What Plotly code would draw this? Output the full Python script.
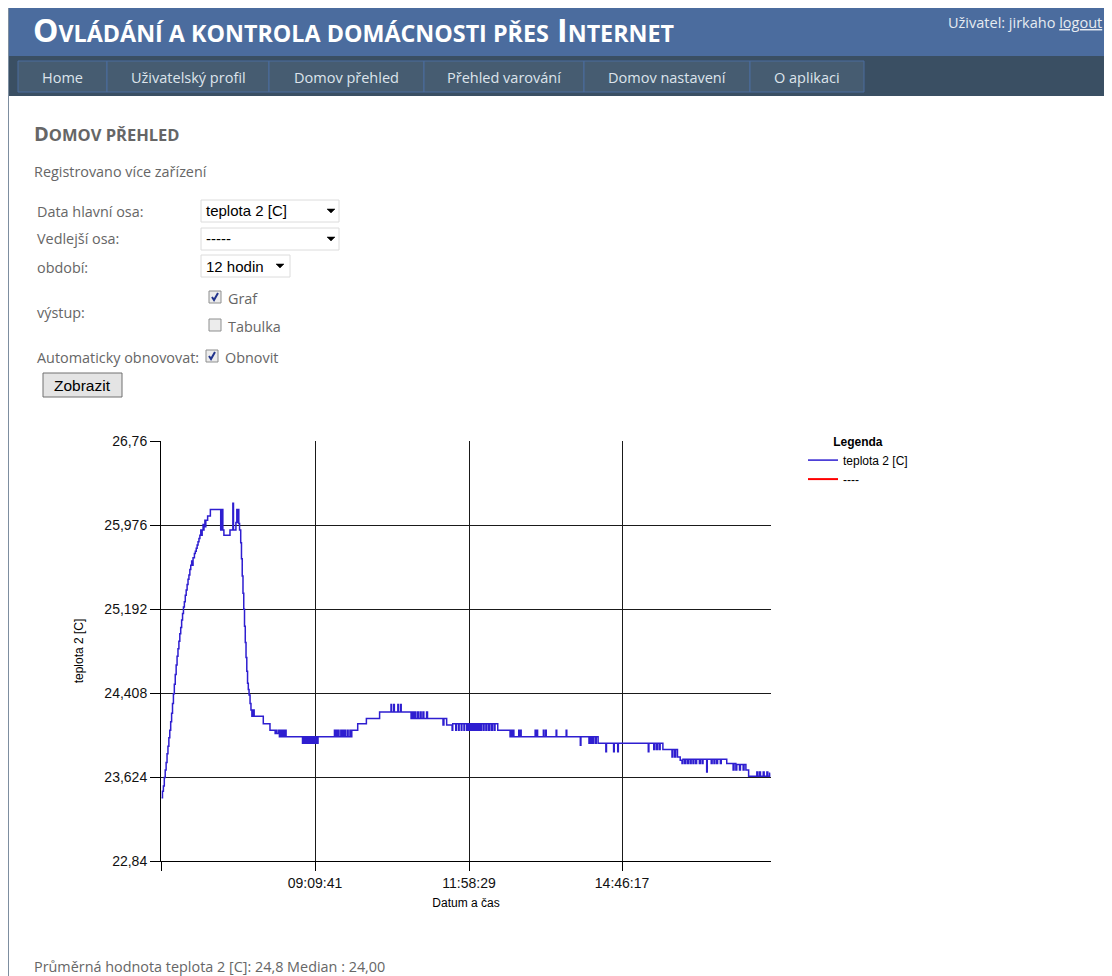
import plotly.graph_objects as go

DAY = "2013-04-16 "

# ---- data (time, temperature) ----
rise = [
    ("06:21:30", 23.43), ("06:22:30", 23.49), ("06:23:30", 23.54), ("06:24:30", 23.62),
    ("06:25:30", 23.69), ("06:26:30", 23.76), ("06:27:30", 23.84), ("06:28:30", 23.91),
    ("06:29:30", 23.99), ("06:30:30", 24.06), ("06:31:30", 24.14), ("06:32:30", 24.22),
    ("06:33:30", 24.31), ("06:34:30", 24.40), ("06:35:30", 24.49), ("06:36:30", 24.58),
    ("06:37:30", 24.67), ("06:38:30", 24.75), ("06:39:30", 24.82), ("06:40:30", 24.89),
    ("06:41:30", 24.96), ("06:42:30", 25.02), ("06:43:30", 25.09), ("06:44:30", 25.15),
    ("06:45:30", 25.21), ("06:46:30", 25.26), ("06:47:30", 25.32), ("06:48:30", 25.37),
    ("06:49:30", 25.42), ("06:50:30", 25.47), ("06:51:30", 25.51), ("06:52:30", 25.56),
    ("06:53:30", 25.60), ("06:54:30", 25.64), ("06:55:30", 25.60), ("06:56:00", 25.67),
    ("06:57:30", 25.71), ("06:58:30", 25.73), ("06:59:30", 25.76), ("07:00:30", 25.79),
    ("07:01:30", 25.82), ("07:02:30", 25.85), ("07:03:30", 25.88), ("07:04:30", 25.93),
    ("07:05:30", 25.88), ("07:06:00", 25.93), ("07:07:00", 25.98), ("07:07:30", 25.93),
    ("07:08:00", 25.98), ("07:09:00", 26.02), ("07:09:30", 25.96), ("07:10:00", 26.02),
    ("07:12:00", 26.06), ("07:15:00", 26.12),
]
peak = [
    ("07:26:20", 25.93), ("07:28:00", 26.12), ("07:28:40", 25.93), ("07:29:50", 25.88),
    ("07:36:30", 25.93), ("07:39:40", 26.18), ("07:40:20", 25.93), ("07:43:00", 26.00),
    ("07:44:00", 26.12), ("07:44:40", 26.00), ("07:45:30", 26.12), ("07:46:10", 25.99),
    ("07:47:00", 25.93),
]
fall = [
    ("07:48:15", 25.81), ("07:49:05", 25.66), ("07:49:55", 25.50), ("07:50:45", 25.34),
    ("07:51:35", 25.19), ("07:52:25", 25.03), ("07:53:15", 24.88), ("07:54:05", 24.74),
    ("07:54:55", 24.61), ("07:55:45", 24.50), ("07:56:35", 24.44), ("07:57:25", 24.39),
    ("07:58:30", 24.31), ("07:59:30", 24.25),
]
morning = [
    ("08:00:30", 24.19), ("08:01:00", 24.25), ("08:01:40", 24.19), ("08:02:20", 24.25),
    ("08:03:00", 24.19), ("08:13:00", 24.12), ("08:20:20", 24.06), ("08:26:00", 24.03),
    ("08:27:00", 24.06), ("08:28:00", 24.03), ("08:30:00", 24.06), ("08:30:40", 24.00),
    ("08:31:30", 24.06), ("08:32:20", 24.00), ("08:33:00", 24.06), ("08:34:00", 24.00),
    ("08:35:00", 24.06), ("08:36:00", 24.00), ("08:37:00", 24.06), ("08:38:00", 24.00),
    ("08:56:00", 23.94), ("08:57:00", 24.00), ("08:58:00", 23.94), ("08:59:30", 24.00),
    ("09:00:30", 23.94), ("09:02:00", 24.00), ("09:03:00", 23.94), ("09:04:00", 24.00),
    ("09:05:00", 23.94), ("09:06:30", 24.00), ("09:07:30", 23.94), ("09:09:00", 24.00),
    ("09:10:00", 23.94), ("09:11:00", 24.00), ("09:12:00", 23.94), ("09:13:00", 24.00),
    ("09:31:00", 24.06), ("09:31:40", 24.00), ("09:33:00", 24.06), ("09:33:40", 24.00),
    ("09:35:00", 24.06), ("09:36:00", 24.00), ("09:38:00", 24.06), ("09:38:40", 24.00),
    ("09:40:00", 24.06), ("09:40:40", 24.00), ("09:42:00", 24.06), ("09:43:00", 24.00),
    ("09:45:00", 24.06), ("09:46:00", 24.00), ("09:48:00", 24.06), ("09:48:40", 24.00),
    ("09:50:00", 24.06),
]
hump = [
    ("09:56:30", 24.12), ("10:06:00", 24.17), ("10:20:30", 24.23), ("10:33:00", 24.30),
    ("10:33:40", 24.23), ("10:36:00", 24.30), ("10:36:40", 24.23), ("10:40:30", 24.30),
    ("10:41:10", 24.23), ("10:43:30", 24.30), ("10:44:10", 24.23), ("10:55:00", 24.17),
    ("10:56:00", 24.23), ("10:57:00", 24.17), ("10:58:30", 24.23), ("11:00:00", 24.17),
    ("11:02:00", 24.23), ("11:03:00", 24.17), ("11:05:00", 24.23), ("11:06:00", 24.17),
    ("11:08:00", 24.23), ("11:09:00", 24.17), ("11:12:00", 24.23), ("11:13:00", 24.17),
    ("11:30:00", 24.11), ("11:31:00", 24.17), ("11:34:00", 24.11), ("11:40:00", 24.06),
    ("11:40:40", 24.12), ("11:44:00", 24.06), ("11:44:40", 24.12), ("11:47:00", 24.06),
    ("11:47:40", 24.12), ("11:50:00", 24.06), ("11:50:40", 24.12), ("11:53:00", 24.06),
    ("11:53:40", 24.12), ("11:56:00", 24.06), ("11:57:00", 24.12), ("11:58:30", 24.06),
    ("11:59:30", 24.12), ("12:01:00", 24.06), ("12:02:00", 24.12), ("12:03:30", 24.06),
    ("12:04:30", 24.12), ("12:06:00", 24.06), ("12:07:00", 24.12), ("12:08:30", 24.06),
    ("12:09:30", 24.12), ("12:11:00", 24.06), ("12:12:00", 24.12), ("12:14:00", 24.06),
    ("12:15:00", 24.12), ("12:17:00", 24.06), ("12:18:00", 24.12), ("12:20:00", 24.06),
    ("12:21:00", 24.12), ("12:23:00", 24.06), ("12:24:00", 24.12), ("12:26:00", 24.06),
    ("12:27:00", 24.12), ("12:30:00", 24.06),
]
afternoon = [
    ("12:43:30", 24.00), ("12:45:00", 24.06), ("12:45:40", 24.00), ("12:47:00", 24.06),
    ("12:47:40", 24.00), ("12:53:00", 24.06), ("12:53:40", 24.00), ("12:55:00", 24.06),
    ("12:55:40", 24.00), ("13:11:00", 24.06), ("13:11:40", 24.00), ("13:13:00", 24.06),
    ("13:13:40", 24.00), ("13:20:00", 24.06), ("13:20:40", 24.00), ("13:22:30", 24.06),
    ("13:23:10", 24.00), ("13:34:00", 24.06), ("13:34:40", 24.00), ("13:45:00", 24.06),
    ("13:45:40", 24.00), ("14:00:30", 23.92), ("14:01:10", 24.00), ("14:10:00", 23.94),
    ("14:11:00", 24.00), ("14:12:00", 23.94), ("14:13:00", 24.00), ("14:14:00", 23.94),
    ("14:15:00", 24.00), ("14:17:00", 23.94), ("14:18:00", 24.00), ("14:20:00", 23.94),
    ("14:28:30", 23.86), ("14:29:10", 23.94), ("14:37:00", 23.86), ("14:37:40", 23.94),
    ("14:41:30", 23.86), ("14:42:10", 23.94), ("15:15:00", 23.86), ("15:15:40", 23.94),
    ("15:21:00", 23.88), ("15:22:00", 23.94), ("15:24:00", 23.88), ("15:25:00", 23.94),
    ("15:27:00", 23.88), ("15:28:00", 23.94), ("15:31:00", 23.88), ("15:41:00", 23.81),
    ("15:42:00", 23.88), ("15:44:00", 23.81), ("15:45:00", 23.88), ("15:47:00", 23.81),
    ("15:50:00", 23.78),
]
evening = [
    ("15:52:00", 23.75), ("15:53:00", 23.79), ("15:55:00", 23.75), ("15:56:00", 23.79),
    ("15:58:00", 23.75), ("15:59:00", 23.79), ("16:01:00", 23.75), ("16:02:00", 23.79),
    ("16:04:00", 23.75), ("16:05:00", 23.79), ("16:07:00", 23.75), ("16:08:00", 23.79),
    ("16:11:00", 23.75), ("16:12:00", 23.79), ("16:14:00", 23.75), ("16:15:00", 23.79),
    ("16:19:00", 23.67), ("16:19:40", 23.79), ("16:24:00", 23.75), ("16:25:00", 23.79),
    ("16:27:00", 23.75), ("16:28:00", 23.79), ("16:30:00", 23.75), ("16:31:00", 23.79),
    ("16:34:00", 23.75), ("16:35:00", 23.79), ("16:41:00", 23.75), ("16:48:00", 23.69),
    ("16:49:00", 23.75), ("16:51:00", 23.69), ("16:52:00", 23.74), ("16:55:00", 23.69),
    ("16:56:00", 23.74), ("16:59:00", 23.69), ("17:00:00", 23.74), ("17:02:00", 23.69),
    ("17:05:00", 23.63), ("17:14:00", 23.67), ("17:15:00", 23.63), ("17:17:00", 23.67),
    ("17:18:00", 23.63), ("17:21:00", 23.67), ("17:22:00", 23.63), ("17:25:00", 23.67),
    ("17:26:00", 23.63), ("17:28:00", 23.66), ("17:28:40", 23.66),
]

y_ticks = [22.84, 23.624, 24.408, 25.192, 25.976, 26.76]
y_tick_labels = ["22,84", "23,624", "24,408", "25,192", "25,976", "26,76"]
x_ticks = ["06:20:53", "09:09:41", "11:58:29", "14:46:17"]
x_tick_labels = ["", "09:09:41", "11:58:29", "14:46:17"]
x_range = ["06:20:53", "17:29:31"]
y_range = [22.84, 26.76]

menu_items = ["Home", "Uživatelský profil", "Domov přehled", "Přehled varování",
              "Domov nastavení", "O aplikaci"]

series_name = "teplota 2 [C]"
second_name = "----"

readings = rise + peak + fall + morning + hump + afternoon + evening
times = [DAY + t for t, _ in readings]
temps = [v for _, v in readings]

# ---- page geometry (page pixels; the browser body adds an 8 px margin) ----
PAGE_W, PAGE_H = 1112, 976
OFF = 8
W, H = PAGE_W - OFF, PAGE_H - OFF
PL, PR, PT, PB = 161, 771, 441, 861


def px(x):
    return (x - PL) / (PR - PL)


def py(y):
    return (PB - y) / (PB - PT)


PAGE_FONT = "Open Sans, Noto Sans, sans-serif"
CHART_FONT = "Arial, Liberation Sans, sans-serif"
BODY = 14.4

shapes = []
annotations = []


def rect(x0, y0, x1, y1, fill, line=None, lw=1):
    shapes.append(dict(type="rect", xref="paper", yref="paper", layer="below",
                       x0=px(x0), x1=px(x1), y0=py(y1), y1=py(y0), fillcolor=fill,
                       line=dict(color=line or fill, width=lw if line else 0)))


def path(points, fill=None, color="black", width=1, close=True):
    d = "M " + " L ".join(f"{px(a):.5f},{py(b):.5f}" for a, b in points)
    if close:
        d += " Z"
    shapes.append(dict(type="path", xref="paper", yref="paper", path=d,
                       fillcolor=fill or "rgba(0,0,0,0)", line=dict(color=color, width=width)))


def text(s, x, y, size=BODY, color="#666666", anchor="left", family=PAGE_FONT):
    annotations.append(dict(text=s, x=px(x), y=py(y), xref="paper", yref="paper",
                            showarrow=False, xanchor=anchor, yanchor="middle",
                            font=dict(size=size, color=color, family=family)))


# header and navigation
rect(9, 8, 1112, 56, "#4b6c9e")
rect(9, 56, 1112, 96, "#3a4f63")
edges = [18, 107, 269, 424, 584, 750, 864]
for i, label in enumerate(menu_items):
    rect(edges[i], 61, edges[i + 1], 92, "#465c71", "#4b6c9e", 1)
    text(label, (edges[i] + edges[i + 1]) / 2, 77, 14.5, "#dde4ec", "center")
shapes.append(dict(type="line", xref="paper", yref="paper", x0=px(8.5), x1=px(8.5),
                   y0=py(8), y1=py(976), line=dict(color="#7d8ea0", width=1)))

text("<b>O<span style='font-size:23.3px'>VLÁDÁNÍ A KONTROLA DOMÁCNOSTI PŘES</span> "
     "I<span style='font-size:23.3px'>NTERNET</span></b>", 31, 30, 32, "white")
text("Uživatel: jirkaho <u>logout</u>", 1104, 22, 14.5, "#e6ebf1", "right")

# page body texts
text("<b>D<span style='font-size:16.5px'>OMOV PŘEHLED</span></b>", 32, 133, 20, "#666666")
text("Registrovano více zařízení", 32, 171)
text("Data hlavní osa:", 35, 212)
text("Vedlejší osa:", 35, 239)
text("období:", 35, 267)
text("výstup:", 35, 312)
text("Automaticky obnovovat:", 35, 357)

# select boxes
for (x0, y0, x1, y1, label, ax) in [(201, 200, 339, 222, "teplota 2 [C]", 331),
                                      (201, 228, 339, 250, "-----", 331),
                                      (201, 255, 290, 277, "12 hodin", 280)]:
    rect(x0, y0, x1, y1, "white", "#dcdcdc", 1)
    text(label, x0 + 3, (y0 + y1) / 2, 15, "black", family=CHART_FONT)
    cy = (y0 + y1) / 2
    path([(ax - 4, cy - 2), (ax + 4, cy - 2), (ax, cy + 2)], fill="black", color="black", width=0.5)

# checkboxes
for (x0, y0, checked, label) in [(209, 291, True, "Graf"), (209, 319, False, "Tabulka"),
                                 (206, 350, True, "Obnovit")]:
    rect(x0, y0, x0 + 12, y0 + 12, "#ececec", "#8e8f8f", 1)
    if checked:
        path([(x0 + 3, y0 + 6), (x0 + 5, y0 + 9), (x0 + 9, y0 + 2)], color="#22348c",
             width=2, close=False)
    text(label, x0 + 17, y0 + 7)

# button
rect(43, 373, 122, 397, "#e4e4e4", "#707070", 1)
text("Zobrazit", 82.5, 385, 15.5, "black", "center", CHART_FONT)

# footer
text("Průměrná hodnota teplota 2 [C]: 24,8 Median : 24,00", 32, 966)

fig = go.Figure()
fig.add_trace(go.Scatter(x=times, y=temps, mode="lines", name=series_name,
                         line=dict(color="#2e1ed0", width=1.5, shape="hv"),
                         hoverinfo="x+y"))
fig.add_trace(go.Scatter(x=[None], y=[None], mode="lines", name=second_name,
                         line=dict(color="#ff0000", width=2)))

fig.update_layout(
    width=W, height=H, autosize=False,
    margin=dict(l=PL - OFF, r=PAGE_W - PR, t=PT - OFF, b=PAGE_H - PB, pad=0),
    paper_bgcolor="white", plot_bgcolor="white",
    font=dict(family=CHART_FONT, size=12, color="black"),
    shapes=shapes, annotations=annotations,
    showlegend=True,
    legend=dict(x=px(803), y=py(430), xanchor="left", yanchor="top",
                bgcolor="rgba(0,0,0,0)", font=dict(size=12, family=CHART_FONT),
                title=dict(text="<b>Legenda</b>", side="top center",
                           font=dict(size=12, family=CHART_FONT)),
                tracegroupgap=0),
    xaxis=dict(type="date", range=[DAY + x_range[0], DAY + x_range[1]],
               tickvals=[DAY + t for t in x_ticks], ticktext=x_tick_labels,
               showgrid=True, gridcolor="#1a1a1a", gridwidth=1,
               showline=True, linecolor="black", linewidth=1,
               ticks="outside", ticklen=9, tickcolor="black",
               tickfont=dict(size=14, family=CHART_FONT, color="#111"),
               title=dict(text="Datum a čas", font=dict(size=12, family=CHART_FONT),
                          standoff=8),
               zeroline=False),
    yaxis=dict(range=y_range, tickvals=y_ticks, ticktext=y_tick_labels,
               showgrid=True, gridcolor="#1a1a1a", gridwidth=1,
               showline=True, linecolor="black", linewidth=1,
               ticks="outside", ticklen=10, tickcolor="black",
               tickfont=dict(size=14, family=CHART_FONT, color="#111"),
               title=dict(text="teplota 2 [C]", font=dict(size=12, family=CHART_FONT),
                          standoff=18),
               zeroline=False),
)

fig.write_html("out.html")
